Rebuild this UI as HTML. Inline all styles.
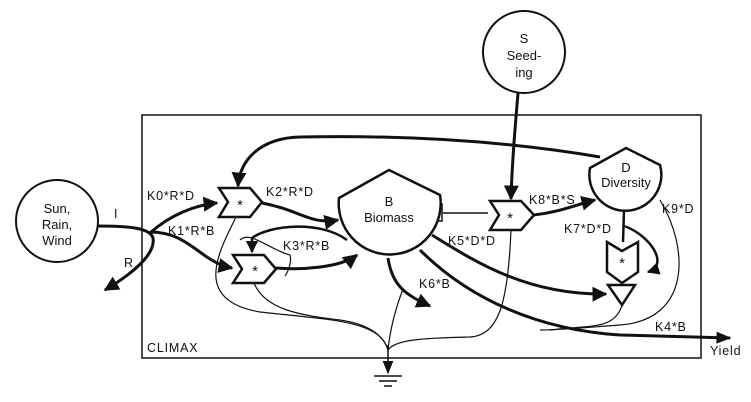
<!DOCTYPE html>
<html><head><meta charset="utf-8"><style>
html,body{margin:0;padding:0;background:#fff;}
svg{display:block;}
text{font-family:"Liberation Sans",sans-serif;fill:#111;}
</style></head><body>
<svg width="751" height="402" viewBox="0 0 751 402" xmlns="http://www.w3.org/2000/svg">
<defs>
<marker id="a" viewBox="0 0 10 10" refX="9" refY="5" markerWidth="5" markerHeight="5" orient="auto"><path d="M0,0 L10,5 L0,10 Z" fill="#111"/></marker>
<marker id="b" viewBox="0 0 10 10" refX="9" refY="5" markerWidth="9" markerHeight="9" orient="auto"><path d="M0,1 L10,5 L0,9 Z" fill="#111"/></marker>
<marker id="c" viewBox="0 0 10 10" refX="9" refY="5" markerWidth="6" markerHeight="5" orient="auto"><path d="M0,1 L10,5 L0,9 Z" fill="#111"/></marker>
</defs>
<g fill="none" stroke="#111">
<rect x="142" y="115" width="559" height="243" stroke-width="1.5"/>
<circle cx="57" cy="221" r="41" stroke-width="2"/>
<circle cx="524" cy="52" r="41" stroke-width="2"/>
<path d="M98,226 C130,226 150,228 153,238 C156,255 130,275 105,290" stroke-width="3" marker-end="url(#a)"/>
<path d="M150,233 C170,215 195,205 217,203" stroke-width="3" marker-end="url(#a)"/>
<path d="M150,232 C190,232 200,262 232,268" stroke-width="3" marker-end="url(#a)"/>
<path d="M600,157 C500,140 400,135 300,137 C260,138 240,160 238,186" stroke-width="3" marker-end="url(#a)"/>
<path d="M262,203 C300,210 310,225 338,220" stroke-width="3" marker-end="url(#a)"/>
<path d="M276,268 C300,270 340,268 357,255" stroke-width="3" marker-end="url(#a)"/>
<path d="M347,240 C320,220 270,225 252,238 L252,252" stroke-width="2.5" marker-end="url(#a)"/>
<path d="M240,240 C250,230 270,250 290,255 C292,262 288,272 285,276" stroke-width="1.2"/>
<path d="M443,213 L488,213" stroke-width="1.5"/>
<rect x="434" y="204" width="8" height="17" stroke-width="1.5"/>
<path d="M518,93 C515,130 512,160 511,199" stroke-width="3" marker-end="url(#a)"/>
<path d="M534,215 C560,212 575,205 595,200" stroke-width="3" marker-end="url(#a)"/>
<path d="M432,235 C480,265 530,295 606,294" stroke-width="3" marker-end="url(#a)"/>
<path d="M420,250 C470,300 540,330 620,335 L730,338" stroke-width="3" marker-end="url(#c)"/>
<path d="M388,258 C392,285 405,295 430,306" stroke-width="3" marker-end="url(#a)"/>
<path d="M624,210 L623,242" stroke-width="2.5"/>
<path d="M624,226 C650,235 670,265 648,272" stroke-width="2.5" marker-end="url(#a)"/>
<path d="M660,200 C690,250 690,320 620,325 C580,328 560,330 540,330" stroke-width="1.2"/>
<path d="M237,215 C220,250 190,300 260,312 C330,320 380,320 388,350" stroke-width="1.2"/>
<path d="M254,283 C265,310 300,315 340,320 C375,325 385,340 388,350" stroke-width="1.2"/>
<path d="M403,289 C395,310 390,330 388,350" stroke-width="1.2"/>
<path d="M511,230 C508,300 500,335 470,337 C420,338 395,340 388,350" stroke-width="1.2"/>
<path d="M622,305 C615,330 590,325 550,330" stroke-width="1.2"/>
<path d="M388,345 L388,373" stroke-width="1.5" marker-end="url(#b)"/>
<path d="M374,376 L402,376 M379,381 L397,381 M384,386 L392,386" stroke-width="1.5"/>
<path d="M219,188 L250,188 L262,202 L250,217 L219,217 L228,202 Z" stroke-width="2.5" fill="#fff"/>
<path d="M233,255 L264,255 L276,269 L264,283 L233,283 L242,269 Z" stroke-width="2.5" fill="#fff"/>
<path d="M490,201 L521,201 L534,215 L521,230 L490,230 L499,215 Z" stroke-width="2.5" fill="#fff"/>
<path d="M607,242 L622,251 L638,242 L638,272 L622,283 L607,272 Z" stroke-width="2.5" fill="#fff"/>
<path d="M608,285 L635,285 L622,305 Z" stroke-width="2.5" fill="#fff"/>
<path d="M339,198 L389,170 L440,195 A51,51 0 1 1 339,198 Z" stroke-width="2.5" fill="#fff"/>
<path d="M590,168 L626,148 L660,165 A36,36 0 1 1 590,168 Z" stroke-width="2.5" fill="#fff"/>
</g>
<g font-size="13" text-anchor="middle">
<text x="57" y="213">Sun,</text><text x="57" y="229">Rain,</text><text x="57" y="245">Wind</text>
<text x="524" y="43">S</text><text x="524" y="60">Seed-</text><text x="524" y="77">ing</text>
<text x="389" y="206">B</text><text x="389" y="222">Biomass</text>
<text x="626" y="172">D</text><text x="626" y="187">Diversity</text>
<text x="240" y="210" font-size="15">*</text><text x="255" y="276" font-size="15">*</text><text x="510" y="223" font-size="15">*</text><text x="622" y="268" font-size="15">*</text>
</g>
<g font-size="12.5" letter-spacing="0.8">
<text x="114" y="218">I</text><text x="124" y="267">R</text>
<text x="147" y="200">K0*R*D</text>
<text x="168" y="235">K1*R*B</text>
<text x="266" y="196">K2*R*D</text>
<text x="283" y="250">K3*R*B</text>
<text x="419" y="288">K6*B</text>
<text x="448" y="245">K5*D*D</text>
<text x="529" y="204">K8*B*S</text>
<text x="564" y="233">K7*D*D</text>
<text x="662" y="213">K9*D</text>
<text x="655" y="331">K4*B</text>
<text x="710" y="355">Yield</text>
<text x="147" y="352">CLIMAX</text>
</g>
</svg>
</body></html>
